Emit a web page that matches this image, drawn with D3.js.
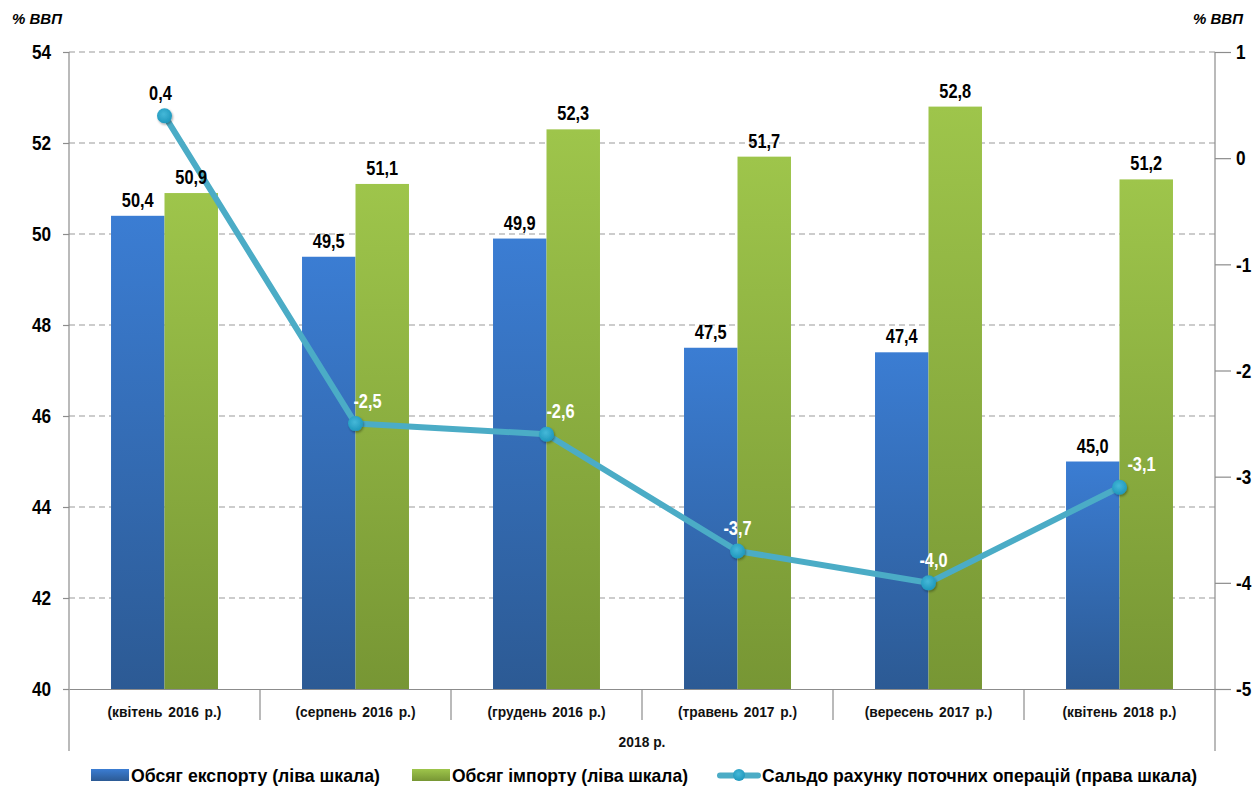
<!DOCTYPE html>
<html><head><meta charset="utf-8">
<script src="https://cdn.jsdelivr.net/npm/d3@7"></script>
<style>body{margin:0;background:#fff}svg{display:block}</style>
</head><body><svg id="c" width="1259" height="787"></svg>
<script>
const categories = ["(квітень 2016 р.)","(серпень 2016 р.)","(грудень 2016 р.)","(травень 2017 р.)","(вересень 2017 р.)","(квітень 2018 р.)"];
const exportVals = [50.4, 49.5, 49.9, 47.5, 47.4, 45.0];
const importVals = [50.9, 51.1, 52.3, 51.7, 52.8, 51.2];
const balanceVals = [0.4, -2.5, -2.6, -3.7, -4.0, -3.1];
const leftTicks = [40, 42, 44, 46, 48, 50, 52, 54];
const rightTicks = [-5, -4, -3, -2, -1, 0, 1];
const seriesNames = ["Обсяг експорту (ліва шкала)", "Обсяг імпорту (ліва шкала)", "Сальдо рахунку поточних операцій (права шкала)"];
const unitLabel = "% ВВП";
const groupLabel = "2018 р.";

const svg = d3.select("#c");
const L = 69, R = 1215, T = 52, B = 689;
const font = "'Liberation Sans',Arial,sans-serif";
const fmt = v => d3.format(".1f")(v).replace(".", ",").replace("−","-");

function place(sel, fx, fy, sx) {
  sel.attr("transform", (d, i) => `translate(${fx(d, i)},${fy(d, i)}) scale(${sx},1)`);
}

const x = d3.scaleBand().domain(categories).range([L, R]).paddingInner(0).paddingOuter(0);
const bw = x.bandwidth();
const pad = bw * 0.22;
const barW = (bw - 2 * pad) / 2;
const yL = d3.scaleLinear().domain([40, 54]).range([B, T]);
const yR = d3.scaleLinear().domain([-5, 1]).range([B, T]);

const defs = svg.append("defs");
function grad(id, c1, c2) {
  const g = defs.append("linearGradient").attr("id", id).attr("x1", 0).attr("y1", 0).attr("x2", 0).attr("y2", 1);
  g.append("stop").attr("offset", "0%").attr("stop-color", c1);
  g.append("stop").attr("offset", "100%").attr("stop-color", c2);
}
grad("gBlue", "#3b7dd3", "#2c5a94");
grad("gGreen", "#9ec54b", "#779634");
const sh = defs.append("filter").attr("id", "sh").attr("x", "-50%").attr("y", "-50%").attr("width", "200%").attr("height", "200%");
sh.append("feDropShadow").attr("dx", 1).attr("dy", 1.5).attr("stdDeviation", 1.2).attr("flood-color", "#000").attr("flood-opacity", 0.35);

// gridlines
svg.append("g").selectAll("line").data(leftTicks.filter(d => d > 40)).join("line")
  .attr("x1", L).attr("x2", R).attr("y1", d => yL(d)).attr("y2", d => yL(d))
  .attr("stroke", "#9a9a9a").attr("stroke-width", 1.2).attr("stroke-dasharray", "6,4");

// bars
const bars = svg.append("g");
bars.selectAll(".ex").data(exportVals).join("rect")
  .attr("x", (d, i) => x(categories[i]) + pad).attr("width", barW)
  .attr("y", d => yL(d)).attr("height", d => B - yL(d)).attr("fill", "url(#gBlue)");
bars.selectAll(".im").data(importVals).join("rect")
  .attr("x", (d, i) => x(categories[i]) + pad + barW).attr("width", barW)
  .attr("y", d => yL(d)).attr("height", d => B - yL(d)).attr("fill", "url(#gGreen)");

// axes
const axL = svg.append("g").attr("transform", `translate(${L},0)`)
  .call(d3.axisLeft(yL).tickValues(leftTicks).tickSize(6).tickFormat(d3.format("d")));
const axR = svg.append("g").attr("transform", `translate(${R},0)`)
  .call(d3.axisRight(yR).tickValues(rightTicks).tickSize(16).tickFormat(d => String(d).replace("−","-")));
[axL, axR].forEach(a => {
  a.select(".domain").remove();
  a.selectAll("line").attr("stroke", "#8c8c8c").attr("stroke-width", 1.2);
  a.selectAll("text").attr("font-family", font).attr("font-weight", "bold").attr("font-size", 20).attr("fill", "#000");
});
axL.selectAll("text").attr("x", null).attr("dy", "0.34em").attr("transform", "translate(-18,0) scale(0.86,1)");
axR.selectAll("text").attr("x", null).attr("dy", "0.34em").attr("transform", "translate(21,0) scale(0.86,1)");
svg.append("line").attr("x1", L).attr("x2", L).attr("y1", T).attr("y2", 751).attr("stroke", "#8c8c8c").attr("stroke-width", 1.2);
svg.append("line").attr("x1", R).attr("x2", R).attr("y1", T).attr("y2", 751).attr("stroke", "#8c8c8c").attr("stroke-width", 1.2);
const axB = svg.append("g").attr("transform", `translate(0,${B})`)
  .call(d3.axisBottom(x).tickSize(0).tickFormat(d => d));
axB.select(".domain").attr("stroke", "#8c8c8c").attr("stroke-width", 1.2);
axB.selectAll("text").attr("dy", 0).attr("y", null).attr("font-family", font)
  .attr("font-weight", "bold").attr("font-size", 15).attr("fill", "#111").attr("word-spacing", 2)
  .attr("transform", "translate(0,28) scale(0.92,1)");
svg.append("g").selectAll("line").data(categories.slice(1)).join("line")
  .attr("x1", d => x(d)).attr("x2", d => x(d)).attr("y1", B).attr("y2", 720)
  .attr("stroke", "#8c8c8c").attr("stroke-width", 1.2);
svg.append("text").attr("text-anchor", "middle")
  .attr("font-family", font).attr("font-weight", "bold").attr("font-size", 15).attr("fill", "#111")
  .attr("transform", `translate(${(L + R) / 2},747) scale(0.92,1)`).text(groupLabel);

svg.append("text").attr("x", 12).attr("y", 24).attr("font-family", font)
  .attr("font-weight", "bold").attr("font-style", "italic").attr("font-size", 15).text(unitLabel);
svg.append("text").attr("x", 1243).attr("y", 24).attr("text-anchor", "end").attr("font-family", font)
  .attr("font-weight", "bold").attr("font-style", "italic").attr("font-size", 15).text(unitLabel);

// line
const cx = (d, i) => x(categories[i]) + bw / 2;
const line = d3.line().x(cx).y(d => yR(d));
svg.append("path").datum(balanceVals).attr("d", line).attr("fill", "none")
  .attr("stroke", "#4bacc6").attr("stroke-width", 6).attr("stroke-linejoin", "round");
const mg = defs.append("radialGradient").attr("id", "gDot").attr("cx", "45%").attr("cy", "40%").attr("r", "60%");
mg.append("stop").attr("offset", "0%").attr("stop-color", "#45b8d8");
mg.append("stop").attr("offset", "100%").attr("stop-color", "#1f98bd");
svg.append("g").selectAll("circle").data(balanceVals).join("circle")
  .attr("cx", cx).attr("cy", d => yR(d)).attr("r", 7.5).attr("fill", "url(#gDot)").attr("filter", "url(#sh)");

// bar labels (on top)
const lbl = svg.append("g").attr("font-family", font).attr("font-weight", "bold").attr("font-size", 19.5).attr("text-anchor", "middle");
place(lbl.selectAll(".le").data(exportVals).join("text").text(fmt),
  (d, i) => x(categories[i]) + pad + barW / 2, d => yL(d) - 9, 0.84);
place(lbl.selectAll(".li").data(importVals).join("text").text(fmt),
  (d, i) => x(categories[i]) + pad + barW * 1.5, d => yL(d) - 9, 0.84);

const ldx = [-4, 12, 14, 0, 5, 22];
place(svg.append("g").attr("font-family", font).attr("font-weight", "bold").attr("font-size", 19.5).attr("text-anchor", "middle")
  .selectAll("text").data(balanceVals).join("text")
  .attr("fill", (d, i) => i === 0 ? "#000" : "#fff").text(fmt),
  (d, i) => cx(d, i) + ldx[i], d => yR(d) - 16, 0.84);

// legend
const lg = svg.append("g").attr("font-family", font).attr("font-weight", "bold").attr("font-size", 18.5);
lg.append("rect").attr("x", 91).attr("y", 769).attr("width", 38).attr("height", 12).attr("fill", "url(#gBlue)");
lg.append("text").attr("x", 131).attr("y", 782).attr("textLength", 249).attr("lengthAdjust", "spacingAndGlyphs").text(seriesNames[0]);
lg.append("rect").attr("x", 412).attr("y", 769).attr("width", 38).attr("height", 12).attr("fill", "url(#gGreen)");
lg.append("text").attr("x", 452).attr("y", 782).attr("textLength", 236).attr("lengthAdjust", "spacingAndGlyphs").text(seriesNames[1]);
lg.append("line").attr("x1", 720).attr("x2", 758).attr("y1", 775.5).attr("y2", 775.5).attr("stroke", "#4bacc6").attr("stroke-width", 6).attr("stroke-linecap", "round");
lg.append("circle").attr("cx", 739).attr("cy", 775).attr("r", 6).attr("fill", "url(#gDot)");
lg.append("text").attr("x", 762).attr("y", 782).attr("textLength", 435).attr("lengthAdjust", "spacingAndGlyphs").text(seriesNames[2]);
</script></body></html>
